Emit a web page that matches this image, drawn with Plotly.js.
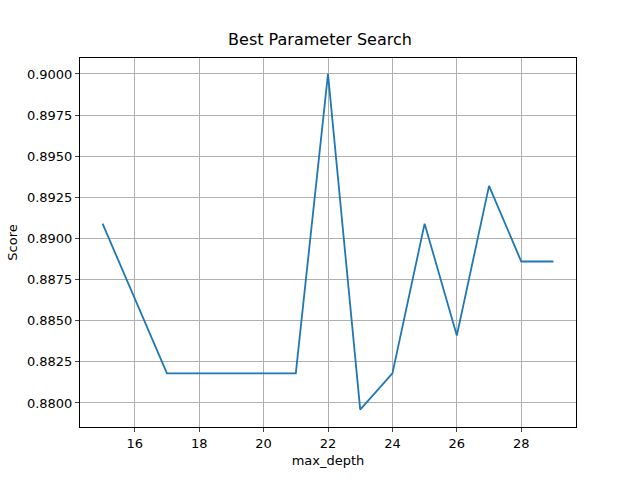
<!DOCTYPE html>
<html><head><meta charset="utf-8">
<script src="https://cdn.plot.ly/plotly-3.0.1.min.js"></script>
<style>body{margin:0}</style></head>
<body><div id="c" style="width:640px;height:480px"></div>
<script>
const maxDepth = [15,16,17,18,19,20,21,22,23,24,25,26,27,28,29];
const score = [0.8909,0.8864,0.8818,0.8818,0.8818,0.8818,0.8818,0.9000,0.8796,0.8818,0.8909,0.8841,0.8932,0.8886,0.8886];
const ax = {showline:true, mirror:true, linecolor:'#000', linewidth:1, ticks:'outside', ticklen:4,
  gridcolor:'#b0b0b0', gridwidth:1, zeroline:false, tickfont:{size:13,color:'#000'}};
Plotly.newPlot('c', [{x:maxDepth, y:score, mode:'lines', line:{color:'#1f77b4', width:1.8}}], {
  width:640, height:480, margin:{l:80, r:64, t:58, b:53},
  font:{family:'DejaVu Sans', color:'#000'},
  paper_bgcolor:'#fff', plot_bgcolor:'#fff', showlegend:false,
  title:{text:'Best Parameter Search', x:0.5, xanchor:'center', y:0.93, font:{size:16}},
  xaxis:Object.assign({}, ax, {range:[14.3,29.7], tickvals:[16,18,20,22,24,26,28], title:{text:'max_depth', font:{size:13}, standoff:6}}),
  yaxis:Object.assign({}, ax, {range:[0.87854,0.90097], tickvals:[0.88,0.8825,0.885,0.8875,0.89,0.8925,0.895,0.8975,0.9], tickformat:'.4f', title:{text:'Score', font:{size:13}, standoff:6}})
}, {displayModeBar:false});
</script></body></html>
